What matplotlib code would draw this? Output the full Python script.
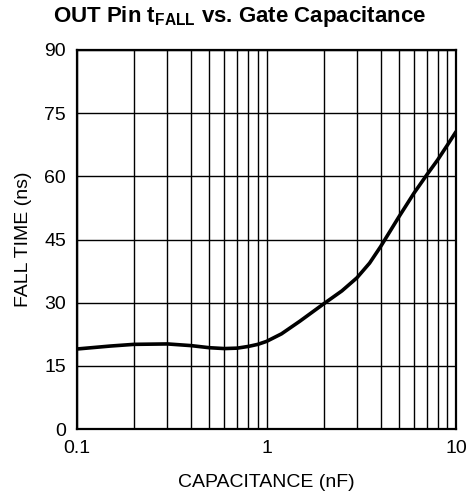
import matplotlib
matplotlib.use("Agg")
import matplotlib.pyplot as plt
from matplotlib.ticker import LogLocator, NullFormatter

plt.rcParams['font.family'] = ['Liberation Sans', 'DejaVu Sans']
plt.rcParams['mathtext.fontset'] = 'custom'
plt.rcParams['mathtext.rm'] = 'Liberation Sans:bold'
plt.rcParams['mathtext.bf'] = 'Liberation Sans:bold'

capacitance_nf = [0.1, 0.15, 0.2, 0.3, 0.4, 0.5, 0.6, 0.7, 0.8, 0.9, 1.0, 1.2, 1.5,
                  2.0, 2.5, 3.0, 3.5, 4.0, 5.0, 6.0, 7.0, 8.0, 9.0, 10.0]
fall_time_ns = [19.0, 19.7, 20.1, 20.2, 19.8, 19.3, 19.1, 19.2, 19.6, 20.1, 20.8, 22.6, 25.6,
                29.7, 32.8, 35.9, 39.4, 43.3, 50.4, 56.0, 60.3, 63.9, 67.4, 70.6]
y_ticks = [0, 15, 30, 45, 60, 75, 90]
x_ticks = [0.1, 1, 10]
x_tick_labels = ['0.1', '1', '10']

fig = plt.figure(figsize=(4.76, 5.01), dpi=100)
ax = fig.add_axes([77/476, 1-429/501, (456-77)/476, (429-50)/501])

ax.plot(capacitance_nf, fall_time_ns, color='black', lw=2.6, solid_capstyle='round',
        solid_joinstyle='round', zorder=3)
ax.set_xscale('log')
ax.set_xlim(0.1, 10)
ax.set_ylim(0, 90)
ax.set_yticks(y_ticks)
ax.set_xticks(x_ticks)
ax.set_xticklabels(x_tick_labels)
ax.xaxis.set_minor_locator(LogLocator(base=10, subs=range(2, 10)))
ax.xaxis.set_minor_formatter(NullFormatter())
ax.grid(True, which='both', axis='x', color='black', lw=1.0)
ax.grid(True, which='major', axis='y', color='black', lw=1.0)
ax.tick_params(which='both', length=0, labelsize=14, colors='black')
ax.tick_params(axis='x', pad=8)
ax.tick_params(axis='y', pad=8)
for s in ax.spines.values():
    s.set_linewidth(1.6)
    s.set_color('black')

ax.set_xlabel('CAPACITANCE (nF)', fontsize=14, labelpad=12)
ax.set_ylabel('FALL TIME (ns)', fontsize=14, labelpad=9)
fig.text(240/476, 1-22/501, r'OUT Pin t$_\mathregular{FALL}$ vs. Gate Capacitance',
         ha='center', va='baseline', fontsize=16, fontweight='bold')

fig.savefig('out.png', dpi=100)
